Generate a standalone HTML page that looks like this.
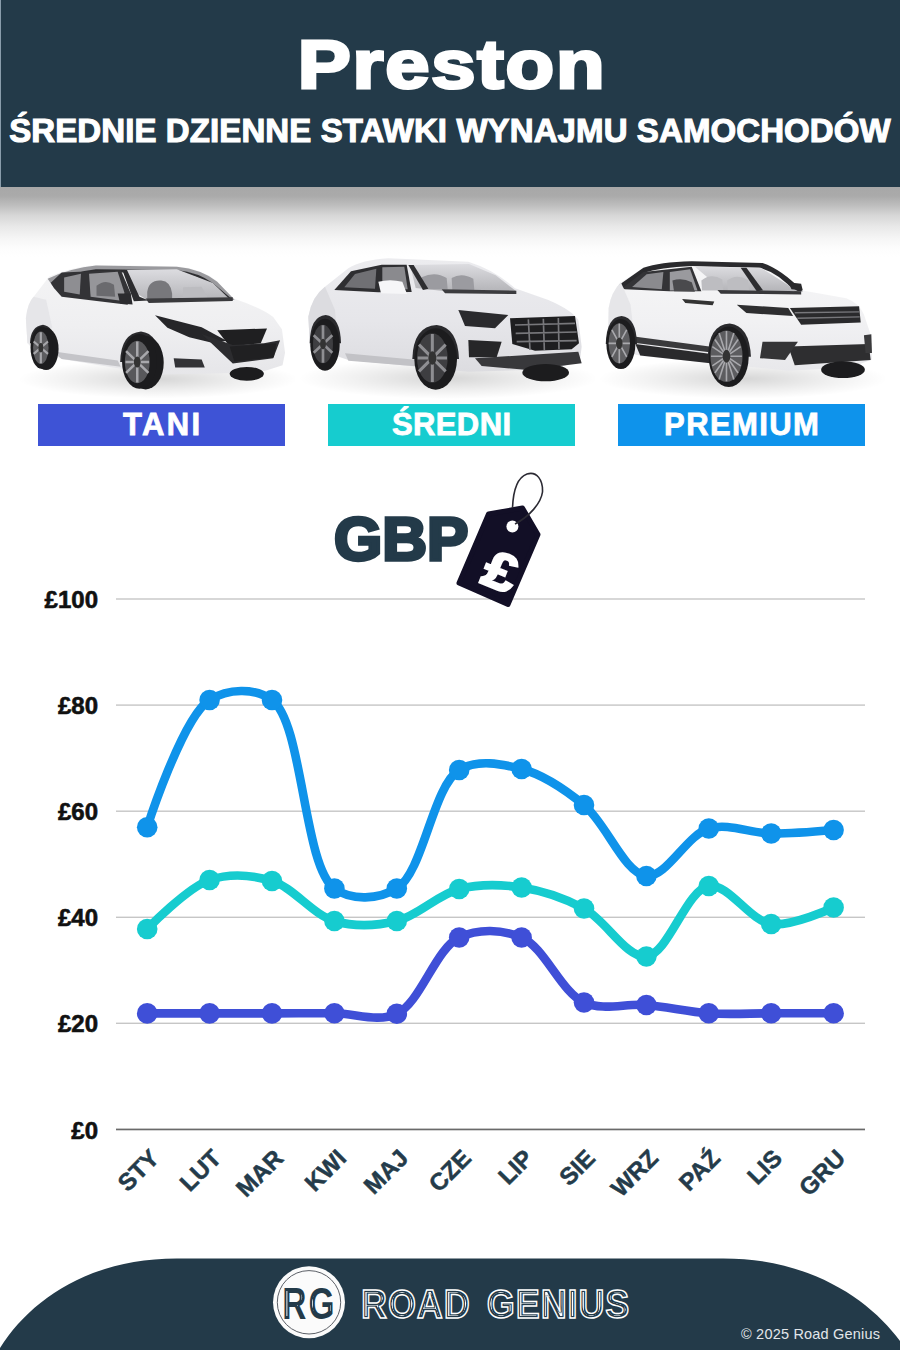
<!DOCTYPE html>
<html>
<head>
<meta charset="utf-8">
<style>
html,body{margin:0;padding:0;}
body{width:900px;height:1350px;position:relative;overflow:hidden;background:#fff;font-family:"Liberation Sans",sans-serif;}
.abs{position:absolute;}
#header{left:0;top:0;width:900px;height:187px;background:#233a49;}
#shadow{left:0;top:187px;width:900px;height:70px;background:linear-gradient(#a8a8a8 0px,#aaaaaa 9px,#bdbdbd 18px,#d6d6d6 28px,#e9e9e9 40px,#f6f6f6 52px,#fdfdfd 62px,#fff 70px);}
#title{left:2px;top:25px;width:900px;text-align:center;color:#fff;font-weight:bold;font-size:68px;line-height:78px;letter-spacing:1.5px;white-space:nowrap;-webkit-text-stroke:3px #fff;transform:scaleX(1.17);}
#subtitle{left:0;top:112px;width:900px;text-align:center;color:#fff;font-weight:bold;font-size:33px;line-height:38px;white-space:nowrap;letter-spacing:0.1px;-webkit-text-stroke:1.1px #fff;}
.lbl{top:404px;width:247px;height:42px;color:#fff;font-weight:bold;font-size:31px;line-height:42px;text-align:center;-webkit-text-stroke:0.8px #fff;}
.yl{left:18px;width:80px;text-align:right;font-weight:bold;font-size:24px;line-height:26px;color:#111;-webkit-text-stroke:0.6px #111;}
.ml{width:80px;text-align:right;font-weight:bold;font-size:24px;line-height:24px;color:#243b4a;transform-origin:100% 50%;transform:rotate(-45deg);-webkit-text-stroke:0.5px #243b4a;}
</style>
</head>
<body>
<div id="header" class="abs"></div>
<div id="shadow" class="abs"></div>
<div class="abs" style="left:0;top:0;width:1px;height:187px;background:#8a9dab;"></div>
<div id="title" class="abs">Preston</div>
<div id="subtitle" class="abs">ŚREDNIE DZIENNE STAWKI WYNAJMU SAMOCHODÓW</div>

<svg class="abs" style="left:15px;top:250px" width="280" height="150" viewBox="0 0 900 482">
<defs>
<radialGradient id="gsh" cx="50%" cy="50%" r="50%"><stop offset="0" stop-color="#000" stop-opacity="0.16"/><stop offset="0.6" stop-color="#000" stop-opacity="0.06"/><stop offset="1" stop-color="#000" stop-opacity="0"/></radialGradient>
<linearGradient id="gb1" x1="0" y1="0" x2="0" y2="1"><stop offset="0" stop-color="#f4f4f5"/><stop offset="0.55" stop-color="#efeff1"/><stop offset="1" stop-color="#e6e6e9"/></linearGradient>
<linearGradient id="gw1" x1="0" y1="0" x2="0" y2="1"><stop offset="0" stop-color="#dcdce0"/><stop offset="1" stop-color="#b4b4b8"/></linearGradient>
</defs>
<ellipse cx="460" cy="415" rx="450" ry="62" fill="url(#gsh)"/>
<path d="M40,300 L35,220 Q40,170 60,150 L110,85 Q180,55 260,48 L520,52 Q600,60 650,100 L700,155 Q790,185 830,215 L858,255 L868,330 L860,370 L800,390 L700,395 L470,400 L330,380 L150,350 L120,330 L60,320 Z" fill="url(#gb1)"/>
<path d="M105,92 Q180,58 260,50 L520,54 Q600,62 650,102 L706,160 L690,162 L636,108 Q590,74 520,66 L260,64 Q185,72 118,112 Z" fill="#9a9a9e"/>
<path d="M118,110 Q185,70 260,62 L520,64 Q590,72 636,106 L700,160 L690,163 L630,112 Q585,80 520,72 L262,72 Q190,80 124,118 Z" fill="#2e2e31"/>
<path d="M115,105 L150,72 L340,64 L372,140 L362,176 L150,150 L125,122 Z" fill="#333336"/>
<path d="M158,88 L212,76 L208,143 L158,134 Z" fill="#8e8e92"/>
<path d="M238,76 L330,70 L352,138 L342,163 L243,150 Z" fill="#96969a"/>
<path d="M262,115 Q290,92 318,112 L322,150 L262,147 Z" fill="#6a6a6e"/>
<path d="M348,64 L520,62 L636,106 L690,158 L428,162 L382,134 Z" fill="url(#gw1)"/>
<path d="M425,135 Q430,95 470,98 Q500,100 505,140 L505,158 L425,160 Z" fill="#78787c"/>
<path d="M540,120 L600,118 L620,155 L540,158 Z" fill="#bcbcc0"/>
<path d="M345,64 L360,64 L400,150 L430,162 L382,165 L372,138 Z" fill="#2c2c2f"/>
<path d="M420,156 L700,152 L700,164 L430,170 Z" fill="#3a3a3d"/>
<path d="M330,140 L372,140 L378,175 L338,172 Z" fill="#2c2c2f"/>
<path d="M40,300 L35,220 Q40,170 60,150 L100,160 L120,250 Z" fill="#e6e6e9"/>
<path d="M450,210 L600,248 L680,292 L640,300 L560,280 L490,250 Z" fill="#262629"/>
<path d="M650,258 L810,252 L790,300 L690,310 Z" fill="#1f1f21"/>
<path d="M600,270 L700,365 L830,348 L852,290 L800,300 L700,305 Z" fill="#2c2c2f"/>
<path d="M690,310 L840,300 L832,345 L705,358 Z" fill="#202022"/>
<path d="M510,348 L600,352 L610,378 L515,378 Z" fill="#333336"/>
<path d="M120,325 L330,355 L340,375 L150,350 Z" fill="#c4c4c8"/>
<path d="M48,300 Q50,245 90,240 Q125,245 128,300 Z" fill="#2a2a2d"/>
<ellipse cx="100" cy="318" rx="40" ry="68" fill="#1c1c1e"/><ellipse cx="86" cy="314" rx="36" ry="68" fill="#1c1c1e"/>
<ellipse cx="83" cy="314" rx="25" ry="52" fill="#5c5c5f"/>
<path d="M83,264 L83,364 M60,294 L106,334 M106,294 L60,334" stroke="#a6a6aa" stroke-width="7"/>
<ellipse cx="83" cy="314" rx="8" ry="15" fill="#333"/>
<path d="M338,360 Q340,268 405,262 Q462,268 468,360 Z" fill="#2a2a2d"/>
<ellipse cx="420" cy="362" rx="58" ry="86" fill="#1c1c1e"/><ellipse cx="400" cy="358" rx="56" ry="88" fill="#1c1c1e"/>
<ellipse cx="393" cy="360" rx="40" ry="68" fill="#58585b"/>
<path d="M393,294 L393,426 M357,325 L429,395 M429,325 L357,395 M355,360 L431,360" stroke="#a8a8ac" stroke-width="8"/>
<ellipse cx="393" cy="360" rx="11" ry="18" fill="#333"/>
<ellipse cx="745" cy="398" rx="55" ry="22" fill="#1c1c1e"/>
</svg>

<svg class="abs" style="left:295px;top:250px" width="300" height="150" viewBox="0 0 900 450">
<defs>
<linearGradient id="gb2" x1="0" y1="0" x2="0" y2="1"><stop offset="0" stop-color="#ececef"/><stop offset="0.55" stop-color="#e6e6ea"/><stop offset="1" stop-color="#dcdce0"/></linearGradient>
</defs>
<ellipse cx="460" cy="385" rx="450" ry="62" fill="url(#gsh)"/>
<path d="M45,290 L40,200 Q50,140 90,110 L160,55 Q200,30 280,25 L520,35 Q600,60 660,115 L760,150 Q830,180 850,210 L860,290 L855,330 L800,350 L690,360 L520,365 L160,330 L100,310 Z" fill="url(#gb2)"/>
<path d="M118,120 L168,64 L260,44 L335,44 L350,126 L250,127 Z" fill="#2e2e31"/>
<path d="M148,112 L180,72 L244,56 L240,116 Z" fill="#707074"/>
<path d="M262,52 L328,50 L338,118 L262,118 Z" fill="#8a8a8e"/>
<path d="M345,45 L522,42 L602,76 L664,124 L452,124 L362,114 Z" fill="url(#gw1)"/>
<path d="M380,82 Q420,62 455,84 L458,118 L382,118 Z M470,84 Q500,66 535,86 L538,120 L472,120 Z" fill="#9b9ba0"/>
<path d="M340,45 L356,45 L400,116 L384,120 Z" fill="#2e2e31"/>
<path d="M440,118 L664,122 L664,132 L450,130 Z" fill="#3c3c3f"/>
<path d="M250,95 Q285,86 322,95 L336,132 L258,130 Z" fill="#f6f6f8"/>
<path d="M40,200 Q50,140 90,110 L120,180 L130,300 L45,290 Z" fill="#dcdce0"/>
<path d="M490,180 L640,195 L600,235 L510,228 Z" fill="#2a2a2d"/>
<path d="M645,205 L840,198 L852,280 L830,298 L720,302 L652,282 Z" fill="#1e1e20"/>
<path d="M660,225 L840,220 M662,250 L845,246 M665,275 L845,272 M700,208 L705,300 M745,206 L748,300 M790,204 L792,298" stroke="#77777b" stroke-width="5" fill="none"/>
<path d="M520,270 L620,275 L605,322 L522,322 Z" fill="#262628"/>
<path d="M540,325 L850,305 L860,340 L700,360 L560,348 Z" fill="#38383b"/>
<path d="M150,310 L370,330 L380,350 L160,332 Z" fill="#c2c2c6"/>
<path d="M44,280 Q46,198 92,195 Q136,200 138,280 Z" fill="#2a2a2d"/>
<ellipse cx="90" cy="284" rx="44" ry="78" fill="#1c1c1e"/>
<ellipse cx="84" cy="282" rx="30" ry="58" fill="#3e3e41"/>
<path d="M84,226 L84,338 M56,256 L112,308 M112,256 L56,308" stroke="#8e8e92" stroke-width="8"/>
<ellipse cx="84" cy="282" rx="9" ry="16" fill="#333"/>
<path d="M352,327 Q355,228 425,225 Q488,232 492,327 Z" fill="#2a2a2d"/>
<ellipse cx="422" cy="327" rx="64" ry="92" fill="#1c1c1e"/>
<ellipse cx="412" cy="324" rx="46" ry="74" fill="#3e3e41"/>
<path d="M412,252 L412,396 M372,284 L452,364 M452,284 L372,364 M368,324 L456,324" stroke="#8e8e92" stroke-width="9"/>
<ellipse cx="412" cy="324" rx="12" ry="20" fill="#333"/>
<ellipse cx="752" cy="368" rx="70" ry="26" fill="#1c1c1e"/>
</svg>

<svg class="abs" style="left:595px;top:250px" width="290" height="150" viewBox="0 0 900 466">
<defs>
<linearGradient id="gb3" x1="0" y1="0" x2="0" y2="1"><stop offset="0" stop-color="#f6f6f7"/><stop offset="0.55" stop-color="#f1f1f3"/><stop offset="1" stop-color="#e8e8eb"/></linearGradient>
</defs>
<ellipse cx="460" cy="400" rx="450" ry="62" fill="url(#gsh)"/>
<path d="M40,300 L42,180 Q50,130 80,100 L150,55 Q200,38 300,35 L520,40 Q580,60 640,125 L780,150 Q820,165 835,200 L855,260 L860,340 L820,355 L700,370 L600,375 L150,330 L100,320 Z" fill="url(#gb3)"/>
<path d="M75,108 L150,55 Q200,38 300,35 L520,40 Q580,60 645,128 L620,130 Q570,70 510,55 L300,50 Q200,55 150,72 L90,118 Z" fill="#2a2a2d"/>
<path d="M85,118 L150,68 L300,52 L330,128 L230,128 L92,122 Z" fill="#333336"/>
<path d="M115,115 L160,75 L212,68 L207,122 Z" fill="#8a8a8e"/>
<path d="M232,68 L295,60 L318,126 L232,126 Z" fill="#9a9a9e"/>
<path d="M310,52 L515,55 L630,128 L400,128 Z" fill="url(#gw1)"/>
<path d="M330,95 Q360,70 395,92 L398,126 L332,126 Z M410,95 Q440,72 475,94 L478,126 L412,126 Z" fill="#bdbdc1"/>
<path d="M470,55 L522,126 L502,128 L452,55 Z" fill="#2c2c2f"/>
<path d="M240,95 Q270,85 300,100 L310,130 L245,128 Z" fill="#4a4a4d"/>
<path d="M380,124 L640,128 L640,138 L390,136 Z" fill="#38383b"/>
<path d="M600,100 L640,105 L645,125 L610,122 Z" fill="#2a2a2c"/>
<path d="M270,152 L370,160 L365,172 L280,165 Z" fill="#333"/>
<path d="M42,180 Q50,130 80,100 L110,170 L125,300 L40,300 Z" fill="#e6e6e9"/>
<path d="M440,170 L600,180 L615,205 L470,196 Z" fill="#2e2e30"/>
<path d="M605,180 L820,175 L825,225 L640,232 Z" fill="#2a2a2c"/>
<path d="M620,195 L820,192 M628,212 L822,208" stroke="#77777b" stroke-width="4" fill="none"/>
<path d="M115,268 L355,300 L355,318 L120,288 Z" fill="#3a3a3c"/>
<path d="M125,292 L355,322 L358,352 L140,328 Z" fill="#2a2a2c"/>
<path d="M600,300 L850,292 L856,342 L620,358 Z" fill="#2e2e30"/>
<path d="M520,285 L630,285 L590,342 L512,336 Z" fill="#343436"/>
<path d="M835,265 L858,262 L860,320 L840,320 Z" fill="#3a3a3c"/>
<path d="M33,292 Q35,208 82,205 Q128,210 130,292 Z" fill="#2a2a2d"/>
<ellipse cx="80" cy="292" rx="45" ry="78" fill="#1c1c1e"/>
<ellipse cx="75" cy="290" rx="33" ry="62" fill="#5e5e61"/>
<path d="M75,228 L75,352 M42,290 L108,290 M52,248 L98,332 M98,248 L52,332" stroke="#a9a9ad" stroke-width="5"/>
<ellipse cx="75" cy="290" rx="10" ry="18" fill="#333"/>
<path d="M350,332 Q352,232 418,228 Q480,235 484,332 Z" fill="#2a2a2d"/>
<ellipse cx="415" cy="332" rx="62" ry="94" fill="#1c1c1e"/>
<ellipse cx="408" cy="330" rx="50" ry="80" fill="#5c5c5f"/>
<path d="M408,252 L408,408 M360,330 L456,330 M372,278 L444,382 M444,278 L372,382 M385,258 L431,402 M431,258 L385,402 M364,300 L452,360 M452,300 L364,360" stroke="#a8a8ac" stroke-width="5"/>
<ellipse cx="408" cy="330" rx="12" ry="20" fill="#333"/>
<ellipse cx="770" cy="372" rx="68" ry="26" fill="#1c1c1e"/>
</svg>


<div class="abs lbl" style="left:38px;background:#3e53d6;letter-spacing:2.4px;text-indent:2.4px">TANI</div>
<div class="abs lbl" style="left:328px;background:#16cccf;letter-spacing:0.4px;text-indent:0.4px">ŚREDNI</div>
<div class="abs lbl" style="left:618px;background:#0e93eb;letter-spacing:1.4px;text-indent:1.4px">PREMIUM</div>

<div class="abs" style="left:334px;top:503px;font-weight:bold;font-size:62px;line-height:72px;letter-spacing:0px;color:#233a49;-webkit-text-stroke:3.5px #233a49;">GBP</div>

<svg class="abs" style="left:0;top:0" width="900" height="1350">
<rect x="116" y="598.3" width="749" height="1.4" fill="#c6c6c6"/>
<rect x="116" y="704.4" width="749" height="1.4" fill="#c6c6c6"/>
<rect x="116" y="810.5" width="749" height="1.4" fill="#c6c6c6"/>
<rect x="116" y="916.6" width="749" height="1.4" fill="#c6c6c6"/>
<rect x="116" y="1022.6" width="749" height="1.4" fill="#c6c6c6"/>
<rect x="116" y="1128.6" width="749" height="1.7" fill="#6a6a6a"/>
<path d="M147.2,929.0 C147.2,929.0 187.4,887.5 209.6,880.0 C229.3,873.4 252.0,875.0 272.0,881.0 C293.8,887.6 312.6,914.6 334.4,921.0 C354.4,926.9 376.6,925.9 396.8,921.0 C418.2,915.8 437.8,894.5 459.2,889.0 C479.4,883.9 501.1,884.4 521.6,887.5 C542.7,890.7 564.0,897.9 584.0,908.5 C605.8,920.1 626.5,958.4 646.4,956.5 C668.2,954.4 686.5,889.4 708.8,886.0 C728.4,883.0 749.7,920.9 771.2,924.0 C791.4,926.9 833.6,907.5 833.6,907.5" fill="none" stroke="#16cccf" stroke-width="8.6" stroke-linecap="round" stroke-linejoin="round"/>
<circle cx="147.2" cy="929.0" r="10.3" fill="#16cccf"/><circle cx="209.6" cy="880.0" r="10.3" fill="#16cccf"/><circle cx="272.0" cy="881.0" r="10.3" fill="#16cccf"/><circle cx="334.4" cy="921.0" r="10.3" fill="#16cccf"/><circle cx="396.8" cy="921.0" r="10.3" fill="#16cccf"/><circle cx="459.2" cy="889.0" r="10.3" fill="#16cccf"/><circle cx="521.6" cy="887.5" r="10.3" fill="#16cccf"/><circle cx="584.0" cy="908.5" r="10.3" fill="#16cccf"/><circle cx="646.4" cy="956.5" r="10.3" fill="#16cccf"/><circle cx="708.8" cy="886.0" r="10.3" fill="#16cccf"/><circle cx="771.2" cy="924.0" r="10.3" fill="#16cccf"/><circle cx="833.6" cy="907.5" r="10.3" fill="#16cccf"/>
<path d="M147.2,1013.4 C147.2,1013.4 188.8,1013.4 209.6,1013.4 C230.4,1013.4 251.2,1013.4 272.0,1013.4 C292.8,1013.4 313.6,1013.1 334.4,1013.2 C355.2,1013.3 377.9,1022.7 396.8,1013.8 C420.6,1002.7 435.4,948.8 459.2,937.5 C478.1,928.5 502.4,929.3 521.6,937.5 C544.7,947.3 560.9,992.1 584.0,1002.5 C603.2,1011.1 625.6,1003.2 646.4,1005.0 C667.2,1006.8 688.0,1011.9 708.8,1013.3 C729.6,1014.7 750.4,1013.3 771.2,1013.3 C792.0,1013.3 833.6,1013.3 833.6,1013.3" fill="none" stroke="#3f4fd7" stroke-width="8.6" stroke-linecap="round" stroke-linejoin="round"/>
<circle cx="147.2" cy="1013.4" r="10.3" fill="#3f4fd7"/><circle cx="209.6" cy="1013.4" r="10.3" fill="#3f4fd7"/><circle cx="272.0" cy="1013.4" r="10.3" fill="#3f4fd7"/><circle cx="334.4" cy="1013.2" r="10.3" fill="#3f4fd7"/><circle cx="396.8" cy="1013.8" r="10.3" fill="#3f4fd7"/><circle cx="459.2" cy="937.5" r="10.3" fill="#3f4fd7"/><circle cx="521.6" cy="937.5" r="10.3" fill="#3f4fd7"/><circle cx="584.0" cy="1002.5" r="10.3" fill="#3f4fd7"/><circle cx="646.4" cy="1005.0" r="10.3" fill="#3f4fd7"/><circle cx="708.8" cy="1013.3" r="10.3" fill="#3f4fd7"/><circle cx="771.2" cy="1013.3" r="10.3" fill="#3f4fd7"/><circle cx="833.6" cy="1013.3" r="10.3" fill="#3f4fd7"/>
<path d="M147.2,827.3 C147.2,827.3 182.5,716.9 209.6,700.0 C227.6,688.8 254.5,687.3 272.0,700.0 C303.2,722.6 303.2,865.9 334.4,888.5 C351.9,901.2 378.7,899.4 396.8,888.5 C423.3,872.5 432.7,786.3 459.2,770.0 C477.3,758.9 501.5,763.8 521.6,769.0 C543.2,774.6 564.4,789.0 584.0,805.0 C606.4,823.4 624.5,873.8 646.4,876.0 C666.3,878.0 686.7,835.0 708.8,828.5 C728.6,822.7 750.4,833.3 771.2,833.5 C792.0,833.7 833.6,830.0 833.6,830.0" fill="none" stroke="#0f93ea" stroke-width="8.6" stroke-linecap="round" stroke-linejoin="round"/>
<circle cx="147.2" cy="827.3" r="10.3" fill="#0f93ea"/><circle cx="209.6" cy="700.0" r="10.3" fill="#0f93ea"/><circle cx="272.0" cy="700.0" r="10.3" fill="#0f93ea"/><circle cx="334.4" cy="888.5" r="10.3" fill="#0f93ea"/><circle cx="396.8" cy="888.5" r="10.3" fill="#0f93ea"/><circle cx="459.2" cy="770.0" r="10.3" fill="#0f93ea"/><circle cx="521.6" cy="769.0" r="10.3" fill="#0f93ea"/><circle cx="584.0" cy="805.0" r="10.3" fill="#0f93ea"/><circle cx="646.4" cy="876.0" r="10.3" fill="#0f93ea"/><circle cx="708.8" cy="828.5" r="10.3" fill="#0f93ea"/><circle cx="771.2" cy="833.5" r="10.3" fill="#0f93ea"/><circle cx="833.6" cy="830.0" r="10.3" fill="#0f93ea"/>

</svg>

<svg class="abs" style="left:0;top:0" width="900" height="640">
<path d="M488.5,514 L522.5,508 L538,534.5 L508,604.5 L459,583 Z" fill="#120f26" stroke="#120f26" stroke-width="5" stroke-linejoin="round"/>
<circle cx="512.4" cy="526.6" r="6" fill="#fff"/>
<path d="M512.5,508 C513,495 516,478 527,474 C537,471 543,480 542.5,492 C541,503 530,516 515,524" fill="none" stroke="#2b2a33" stroke-width="1.6"/>
<text x="0" y="0" transform="translate(494,588) rotate(22) scale(1.12,1)" font-family="Liberation Sans" font-weight="bold" font-size="52" fill="#fff" stroke="#fff" stroke-width="2.5" text-anchor="middle">£</text>
</svg>
<div class="abs yl" style="top:587px">£100</div>
<div class="abs yl" style="top:693px">£80</div>
<div class="abs yl" style="top:799px">£60</div>
<div class="abs yl" style="top:905px">£40</div>
<div class="abs yl" style="top:1011px">£20</div>
<div class="abs yl" style="top:1118px">£0</div>

<div class="abs ml" style="left:75px;top:1142px">STY</div>
<div class="abs ml" style="left:137px;top:1142px">LUT</div>
<div class="abs ml" style="left:199px;top:1142px">MAR</div>
<div class="abs ml" style="left:262px;top:1142px">KWI</div>
<div class="abs ml" style="left:324px;top:1142px">MAJ</div>
<div class="abs ml" style="left:387px;top:1142px">CZE</div>
<div class="abs ml" style="left:449px;top:1142px">LIP</div>
<div class="abs ml" style="left:511px;top:1142px">SIE</div>
<div class="abs ml" style="left:574px;top:1142px">WRZ</div>
<div class="abs ml" style="left:636px;top:1142px">PAŹ</div>
<div class="abs ml" style="left:698px;top:1142px">LIS</div>
<div class="abs ml" style="left:761px;top:1142px">GRU</div>

<svg class="abs" style="left:0;top:1240px" width="900" height="110">
<path d="M0,108 C30,60 90,18 178,18.4 L722,18.4 C810,18 870,60 900,101 L900,110 L0,110 Z" fill="#233a49"/>
</svg>
<svg class="abs" style="left:0;top:1240px" width="900" height="110">
<circle cx="309" cy="62.3" r="36" fill="#fbfbfb"/>
<circle cx="309" cy="62.3" r="31.7" fill="none" stroke="#5b5f66" stroke-width="1"/>
<text x="0" y="0" transform="translate(309.5,78.5) scale(0.76,1)" text-anchor="middle" font-family="Liberation Sans" font-weight="bold" font-size="44" fill="#233a49" letter-spacing="3">RG</text>
<defs><filter id="er2" x="-5%" y="-5%" width="110%" height="110%"><feMorphology operator="erode" radius="3.1"/></filter></defs>
<text x="0" y="0" transform="translate(309.5,78.5) scale(0.76,1)" text-anchor="middle" font-family="Liberation Sans" font-weight="bold" font-size="44" fill="#fff" filter="url(#er2)" letter-spacing="3">RG</text>
<defs><filter id="er" x="-5%" y="-5%" width="110%" height="110%"><feMorphology operator="erode" radius="2.3"/></filter></defs>
<g transform="translate(361,0) scale(0.9,1) translate(-363,0)">
<text x="363" y="78" font-family="Liberation Sans" font-weight="bold" font-size="40" fill="none" stroke="#fff" stroke-width="1.5" letter-spacing="1" word-spacing="6">ROAD GENIUS</text>
<text x="363" y="78" font-family="Liberation Sans" font-weight="bold" font-size="40" fill="#fff" filter="url(#er)" letter-spacing="1" word-spacing="6">ROAD GENIUS</text>
</g>
</svg>
<div class="abs" style="left:741px;top:1326px;font-size:14.5px;line-height:16px;letter-spacing:0.2px;color:#e2e6ea;white-space:nowrap;">© 2025 Road Genius</div>
</body>
</html>
